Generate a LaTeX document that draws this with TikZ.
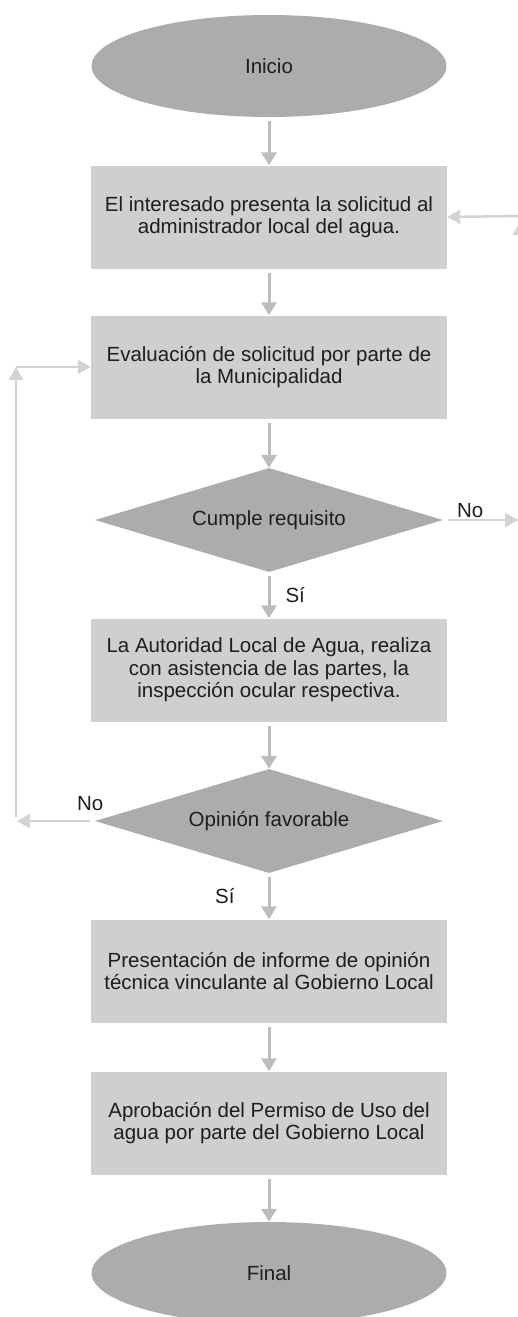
\documentclass[tikz,border=0pt]{standalone}
\usepackage{fontspec}
\setmainfont{Liberation Sans}
\usepackage{xcolor}
\usepackage{tikz}
\usetikzlibrary{positioning,shapes.geometric,arrows.meta}
\definecolor{BoxGrey}{HTML}{D0CECF}
\definecolor{ShapeGrey}{HTML}{AEABAB}
\definecolor{ArrowGrey}{HTML}{BDBDBD}
\definecolor{LoopGrey}{HTML}{D3D3D3}
\definecolor{InkGrey}{HTML}{1E1E1E}

\begin{document}
\begin{tikzpicture}[x=1pt,y=-1pt,
    every node/.style={font=\fontsize{20.5}{22.5}\selectfont, text=InkGrey},
    proceso/.style={rectangle, fill=BoxGrey, minimum width=356pt, minimum height=103pt, align=center, inner sep=0pt},
    terminal/.style={ellipse, fill=ShapeGrey, minimum width=355pt, minimum height=102pt, inner sep=0pt},
    decision/.style={diamond, aspect=3, fill=ShapeGrey, minimum width=348pt, minimum height=104pt, inner sep=0pt},
    etiqueta/.style={inner sep=1pt},
    flecha/.style={ArrowGrey, line width=3pt, -{Triangle[width=15pt,length=13pt]}, shorten <=4pt},
    retorno/.style={LoopGrey, line width=2.5pt, -{Triangle[width=14pt,length=13pt]}}]
      \useasboundingbox (0,0) rectangle (518,1317);
      % Pasos del procedimiento
      \node[terminal] (inicio) at (269,66) {Inicio};
      \node[proceso] (solicitud) at (269,217) {El interesado presenta la solicitud al\\administrador local del agua.};
      \node[proceso] (evaluacion) at (269,367) {Evaluación de solicitud por parte de\\la Municipalidad};
      \node[decision] (cumple) at (269,520) {Cumple requisito};
      \node[proceso] (autoridad) at (269,670) {La Autoridad Local de Agua, realiza\\con asistencia de las partes, la\\inspección ocular respectiva.};
      \node[decision] (opinion) at (269,821) {Opinión favorable};
      \node[proceso] (informe) at (269,971) {Presentación de informe de opinión\\técnica vinculante al Gobierno Local};
      \node[proceso] (aprobacion) at (269,1123) {Aprobación del Permiso de Uso del\\agua por parte del Gobierno Local};
      \node[terminal] (final) at (269,1273) {Final};
      % Flujo principal
      \draw[flecha] (inicio.south) -- (solicitud.north);
      \draw[flecha] (solicitud.south) -- (evaluacion.north);
      \draw[flecha] (evaluacion.south) -- (cumple.north);
      \draw[flecha] (cumple.south) -- node[etiqueta, right=14pt] {Sí} (autoridad.north);
      \draw[flecha] (autoridad.south) -- (opinion.north);
      \draw[flecha] (opinion.south) -- node[etiqueta, left=32pt] {Sí} (informe.north);
      \draw[flecha] (informe.south) -- (aprobacion.north);
      \draw[flecha] (aprobacion.south) -- (final.north);
      % Salidas por No y retornos
      \coordinate (salidaNo) at (518,520);
      \coordinate (entrada) at (518,216);
      \coordinate (subidaDer) at (520,262);
      \coordinate (puntaDer) at (520,222);
      \coordinate (vuelta) at (17,821);
      \coordinate (subida) at (16,817);
      \coordinate (esquina) at (16,367);
      \draw[retorno, shorten <=5pt] (cumple.east) -- node[etiqueta, above, pos=0.36] {No} (salidaNo);
      \draw[retorno] (entrada) -- (solicitud.east);
      \draw[retorno] (subidaDer) -- (puntaDer);
      \draw[retorno, shorten <=5pt] (opinion.west) -- node[etiqueta, above=8pt, pos=0.06] {No} (vuelta);
      \draw[retorno] (subida) -- (esquina);
      \draw[retorno] (esquina) -- (evaluacion.west);
    \end{tikzpicture}
\end{document}
